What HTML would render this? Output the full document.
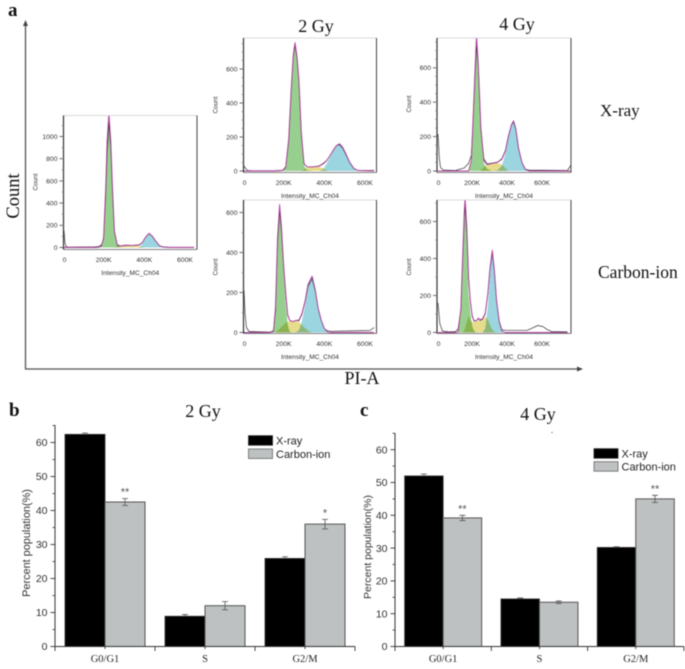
<!DOCTYPE html>
<html lang="en">
<head>
<meta charset="utf-8">
<title>Cell cycle distribution after X-ray and carbon-ion irradiation</title>
<style>
html,body{margin:0;padding:0;background:#fff;width:685px;height:669px;overflow:hidden}
svg{display:block;filter:blur(0.55px)}
.sf{font-family:"Liberation Serif",serif}
.ss{font-family:"Liberation Sans",sans-serif}
</style>
</head>
<body>
<svg id="figure" xmlns="http://www.w3.org/2000/svg" width="685" height="669" viewBox="0 0 685 669">
  <rect x="0" y="0" width="685" height="669" fill="#fff"/>
  <text class="sf" x="8" y="16" font-size="19" font-weight="bold" fill="#111">a</text>
  <text class="sf" x="9" y="416" font-size="19" font-weight="bold" fill="#111">b</text>
  <text class="sf" x="360" y="416" font-size="19" font-weight="bold" fill="#111">c</text>

  <line x1="25.5" y1="24" x2="25.5" y2="369" stroke="#555" stroke-width="1.3"/>
  <polygon points="25.5,20 23,26 28,26" fill="#444"/>
  <line x1="25" y1="369" x2="578" y2="369" stroke="#555" stroke-width="1.3"/>
  <polygon points="583,369 577,366.5 577,371.5" fill="#444"/>
  <text class="sf" transform="translate(19,196) rotate(-90)" text-anchor="middle" font-size="18.5" fill="#111">Count</text>
  <text class="sf" x="362" y="384" text-anchor="middle" font-size="18" fill="#111">PI-A</text>

  <text class="sf" x="316" y="32" text-anchor="middle" font-size="18" fill="#111">2 Gy</text>
  <text class="sf" x="517" y="30" text-anchor="middle" font-size="18" fill="#111">4 Gy</text>
  <text class="sf" x="600" y="116" font-size="17" fill="#111">X-ray</text>
  <text class="sf" x="598" y="278" font-size="17.5" fill="#111">Carbon-ion</text>

  <text class="sf" x="203" y="417" text-anchor="middle" font-size="18" fill="#111">2 Gy</text>
  <text class="sf" x="538" y="420" text-anchor="middle" font-size="18" fill="#111">4 Gy</text>
  <circle cx="552" cy="432.5" r="0.6" fill="#555"/>
  <g id="layer"></g>
</svg>
<script>
// ---------- Flow cytometry histograms (intensity in K, counts) ----------
const flowXTicks = [0, 200, 400, 600];
const flowYTicksControl = [0, 200, 400, 600, 800, 1000];
const flowYTicksDose = [0, 200, 400, 600];

const ctrlGrid = [0,5,10,20,150,170,185,195,205,212,221,230,238,248,262,280,300,340,370,385,400,418,435,450,470,490,520,640];
const ctrlRaw = [150,40,10,4,5,8,25,80,480,850,1130,900,520,140,25,15,22,20,25,45,90,125,100,60,15,6,3,3];
const ctrlFit = [0,0,0,0,0,2,15,90,540,960,1210,960,560,150,18,14,18,18,22,42,90,128,102,60,15,3,0,0];
const ctrlG1 = [0,0,0,0,0,2,15,90,540,960,1210,960,560,150,15,2,0,0,0,0,0,0,0,0,0,0,0,0];
const ctrlS = [0,0,0,0,0,0,0,0,0,0,0,0,0,3,10,14,18,18,14,5,0,0,0,0,0,0,0,0];
const ctrlG2 = [0,0,0,0,0,0,0,0,0,0,0,0,0,0,0,0,0,0,0,30,85,128,102,60,15,3,0,0];

const x2Grid = [0,10,20,40,150,190,205,220,232,242,251,260,270,282,295,310,340,370,390,405,420,440,455,470,485,500,520,540,560,640];
const x2Raw = [30,12,3,2,2,5,25,180,470,670,740,670,530,220,45,25,25,30,45,60,85,125,150,155,135,100,50,15,3,3];
const x2Fit = [0,0,0,0,0,3,20,190,480,680,755,680,540,230,42,25,25,28,42,58,85,125,150,160,140,105,52,16,3,0];
const x2G1 = [0,0,0,0,0,3,20,190,480,680,755,680,540,230,32,5,0,0,0,0,0,0,0,0,0,0,0,0,0,0];
const x2S = [0,0,0,0,0,0,0,0,0,0,0,0,0,0,8,20,25,24,15,5,0,0,0,0,0,0,0,0,0,0];
const x2G2 = [0,0,0,0,0,0,0,0,0,0,0,0,0,0,0,0,0,0,10,40,75,120,148,158,138,103,50,15,2,0];

const x4Grid = [0,8,15,30,100,150,175,190,200,210,220,230,245,262,280,310,340,365,385,400,420,432,445,460,480,500,520,740,760];
const x4Raw = [215,70,20,5,3,18,45,90,280,530,730,610,240,70,42,46,52,72,120,195,270,285,240,130,48,10,5,3,35];
const x4Fit = [0,0,0,0,0,0,0,60,290,560,790,620,250,60,38,44,50,68,115,190,270,292,245,135,48,8,0,0,0];
const x4G1 = [0,0,0,0,0,0,0,60,290,560,790,620,250,45,12,0,0,0,0,0,0,0,0,0,0,0,0,0,0];
const x4S = [0,0,0,0,0,0,0,0,0,0,0,0,5,22,36,44,46,38,15,2,0,0,0,0,0,0,0,0,0];
const x4G2 = [0,0,0,0,0,0,0,0,0,0,0,0,0,0,0,0,4,30,100,188,270,292,245,135,48,8,0,0,0];

const c2Grid = [0,5,12,25,130,145,155,165,175,185,195,205,215,225,240,255,270,285,300,315,335,350,365,380,395,410,430,520,620,640];
const c2Raw = [210,100,25,5,2,10,110,440,610,500,330,190,85,60,55,60,58,90,150,230,270,210,120,60,20,8,6,8,10,25];
const c2Fit = [0,0,0,0,0,6,130,470,640,520,340,200,90,60,55,60,62,95,155,240,282,215,120,60,20,2,0,0,0,0];
const c2G1 = [0,0,0,0,0,6,125,462,622,492,302,152,36,4,0,0,0,0,0,0,0,0,0,0,0,0,0,0,0,0];
const c2S = [0,0,0,0,0,0,0,8,18,28,38,48,54,56,56,56,52,38,22,8,0,0,0,0,0,0,0,0,0,0];
const c2G2 = [0,0,0,0,0,0,0,0,0,0,0,0,0,0,0,2,10,55,130,230,280,215,120,60,20,2,0,0,0,0];

const c4Grid = [0,10,25,60,100,115,130,140,150,155,165,175,185,195,205,218,230,240,255,270,285,297,310,322,335,350,365,385,510,540,570,600,625,650,740];
const c4Raw = [160,50,8,3,5,20,120,370,620,690,530,290,165,90,62,62,75,65,72,100,210,340,430,330,170,60,15,12,12,25,38,32,15,5,3];
const c4Fit = [0,0,0,0,0,4,125,390,655,730,560,300,170,95,65,62,78,68,75,105,215,350,445,335,172,55,8,0,0,0,0,0,0,0,0];
const c4G1 = [0,0,0,0,0,4,125,390,645,715,500,210,108,37,10,0,0,0,0,0,0,0,0,0,0,0,0,0,0,0,0,0,0,0,0];
const c4S = [0,0,0,0,0,0,0,0,10,25,60,90,62,58,55,58,65,60,68,85,72,40,15,3,0,0,0,0,0,0,0,0,0,0,0];
const c4G2 = [0,0,0,0,0,0,0,0,0,0,0,0,0,0,0,0,0,0,0,20,143,310,430,332,172,55,8,0,0,0,0,0,0,0,0];

// ---------- Bar charts ----------
const barCategories = ['G0/G1', 'S', 'G2/M'];
const barYTicks = [0, 10, 20, 30, 40, 50, 60];
const legendLabels = ['X-ray', 'Carbon-ion'];

const bXray = [62.4, 8.9, 25.9];
const bCarbon = [42.5, 12.0, 36.0];
const bXrayErr = [0.4, 0.5, 0.5];
const bCarbonErr = [1.0, 1.2, 1.4];
const bStars = ['**', '', '*'];

const cXray = [52.0, 14.5, 30.2];
const cCarbon = [39.2, 13.5, 45.0];
const cXrayErr = [0.6, 0.3, 0.2];
const cCarbonErr = [0.8, 0.4, 1.1];
const cStars = ['**', '', '**'];

const SVGNS = 'http://www.w3.org/2000/svg';
const layer = document.getElementById('layer');

function make(parent, tag, props, txt) {
  const el = document.createElementNS(SVGNS, tag);
  for (const k in props) el.setAttribute(k, props[k]);
  if (txt !== undefined) el.textContent = txt;
  parent.appendChild(el);
  return el;
}

let clipId = 0;

function drawFlowPanel(name, box, grid, raw, fit, g1, s, g2, yTicks, minorStep) {
  const g = make(layer, 'g', {});
  
  
  const X = k => box.x0 + k * box.xs;
  const Y = c => box.y0 - c * box.ys;

  const id = 'clip' + (clipId++);
  const clip = make(g, 'clipPath', { id: id });
  
  
  make(clip, 'rect', { x: box.l, y: box.t, width: box.r - box.l, height: box.b - box.t + 1 });

  const plot = make(g, 'g', { 'clip-path': 'url(#' + id + ')' });
  
  

  const areaPath = vals => {
    let d = 'M' + X(grid[0]).toFixed(1) + ' ' + Y(0).toFixed(1);
    grid.forEach((k, i) => { d += 'L' + X(k).toFixed(1) + ' ' + Y(vals[i]).toFixed(1); });
    return d + 'L' + X(grid[grid.length - 1]).toFixed(1) + ' ' + Y(0).toFixed(1) + 'Z';
  };
  const linePath = vals => grid.map((k, i) => (i ? 'L' : 'M') + X(k).toFixed(1) + ' ' + Y(vals[i]).toFixed(1)).join('');

  const aG1 = make(plot, 'path', { d: areaPath(g1), fill: '#97d08e', style: 'mix-blend-mode:multiply' });
  
  
  const aS = make(plot, 'path', { d: areaPath(s), fill: '#e6dc8c', style: 'mix-blend-mode:multiply' });
  
  
  const aG2 = make(plot, 'path', { d: areaPath(g2), fill: '#9ad5e0', style: 'mix-blend-mode:multiply' });
  
  
  const lRaw = make(plot, 'path', { d: linePath(raw), fill: 'none', stroke: '#333', 'stroke-width': 0.7, 'stroke-linejoin': 'round' });
  
  
  const lFit = make(plot, 'path', { d: linePath(fit), fill: 'none', stroke: '#b2409f', 'stroke-width': 0.9, 'stroke-linejoin': 'round' });
  
  

  const frameTop = make(g, 'line', { x1: box.l, y1: box.t, x2: box.r, y2: box.t, stroke: '#ccc', 'stroke-width': 0.7 });
  
  
  const frameRight = make(g, 'line', { x1: box.r, y1: box.t, x2: box.r, y2: box.b, stroke: '#444', 'stroke-width': 1 });
  
  
  const frameLeft = make(g, 'line', { x1: box.l, y1: box.t, x2: box.l, y2: box.b, stroke: '#333', 'stroke-width': 1.2 });
  
  
  const frameBottom = make(g, 'line', { x1: box.l, y1: box.b, x2: box.r, y2: box.b, stroke: '#555', 'stroke-width': 0.7 });
  
  

  yTicks.forEach(v => {
    const t = make(g, 'line', { x1: box.l - 4, y1: Y(v), x2: box.l, y2: Y(v), stroke: '#444', 'stroke-width': 0.8 });
    
    
    const lab = make(g, 'text', { x: box.l - 6, y: Y(v) + 2.4, 'text-anchor': 'end', 'font-size': 6.8, fill: '#333', 'class': 'ss' }, String(v));
    
    
  });
  for (let v = minorStep; Y(v) > box.t; v += minorStep) {
    const m = make(g, 'line', { x1: box.l - 2, y1: Y(v), x2: box.l, y2: Y(v), stroke: '#777', 'stroke-width': 0.6 });
    
    
  }
  flowXTicks.forEach(v => {
    const lab = make(g, 'text', { x: X(v) + (v ? -1 : 0.5), y: box.b + 12.5, 'text-anchor': 'middle', 'font-size': 6.8, fill: '#333', 'class': 'ss' }, v ? v + 'K' : '0');
    
    
  });
  const xt = make(g, 'text', { x: (box.l + box.r) / 2, y: box.b + 25.5, 'text-anchor': 'middle', 'font-size': 6.6, fill: '#333', 'class': 'ss' }, 'Intensity_MC_Ch04');
  
  
  const yt = make(g, 'text', { transform: 'translate(' + (box.l - 26) + ',' + box.countY + ') rotate(-90)', 'text-anchor': 'middle', 'font-size': 6.4, fill: '#333', 'class': 'ss' }, 'Count');
  
  
}

drawFlowPanel('histogram-control', { l: 63.5, r: 197, t: 115.5, b: 249.5, x0: 64, xs: 0.2033, y0: 247.5, ys: 0.111, countY: 182 }, ctrlGrid, ctrlRaw, ctrlFit, ctrlG1, ctrlS, ctrlG2, flowYTicksControl, 100);
drawFlowPanel('histogram-x-ray-2gy', { l: 243.5, r: 376.5, t: 38, b: 172.5, x0: 244, xs: 0.2033, y0: 171, ys: 0.17, countY: 105 }, x2Grid, x2Raw, x2Fit, x2G1, x2S, x2G2, flowYTicksDose, 50);
drawFlowPanel('histogram-x-ray-4gy', { l: 437, r: 571, t: 38, b: 172.5, x0: 438, xs: 0.175, y0: 171, ys: 0.172, countY: 104 }, x4Grid, x4Raw, x4Fit, x4G1, x4S, x4G2, flowYTicksDose, 50);
drawFlowPanel('histogram-carbon-2gy', { l: 243.5, r: 376.5, t: 200, b: 333.5, x0: 244, xs: 0.2033, y0: 332.5, ys: 0.2, countY: 267 }, c2Grid, c2Raw, c2Fit, c2G1, c2S, c2G2, flowYTicksDose, 100);
drawFlowPanel('histogram-carbon-4gy', { l: 437, r: 571, t: 200, b: 333.5, x0: 438, xs: 0.175, y0: 332.5, ys: 0.185, countY: 267 }, c4Grid, c4Raw, c4Fit, c4G1, c4S, c4G2, flowYTicksDose, 100);

function drawBarChart(name, box, xray, carbon, xrayErr, carbonErr, stars) {
  const g = make(layer, 'g', {});
  
  
  const Y = v => box.y0 - v * box.ys;
  const cx = i => box.x0 + box.step * (i + 0.5);

  barCategories.forEach((cat, i) => {
    const c = cx(i);
    const r1 = make(g, 'rect', { x: c - box.bw, y: Y(xray[i]), width: box.bw, height: box.y0 - Y(xray[i]), fill: '#000', stroke: '#333', 'stroke-width': 0.8 });
    
    
    const r2 = make(g, 'rect', { x: c, y: Y(carbon[i]), width: box.bw, height: box.y0 - Y(carbon[i]), fill: '#bdc1c1', stroke: '#555', 'stroke-width': 1 });
    
    

    const e1 = make(g, 'path', { d: 'M' + (c - box.bw / 2) + ' ' + Y(xray[i] + xrayErr[i]) + 'V' + Y(xray[i]) + 'M' + (c - box.bw / 2 - 3) + ' ' + Y(xray[i] + xrayErr[i]) + 'h6', stroke: '#555', 'stroke-width': 0.8, fill: 'none' });
    
    
    const ex = c + box.bw / 2;
    const e2 = make(g, 'path', { d: 'M' + ex + ' ' + Y(carbon[i] + carbonErr[i]) + 'V' + Y(carbon[i] - carbonErr[i]) + 'M' + (ex - 3) + ' ' + Y(carbon[i] + carbonErr[i]) + 'h6M' + (ex - 3) + ' ' + Y(carbon[i] - carbonErr[i]) + 'h6', stroke: '#555', 'stroke-width': 0.8, fill: 'none' });
    
    

    if (stars[i]) {
      const st = make(g, 'text', { x: ex, y: Y(carbon[i] + carbonErr[i]) - 3, 'text-anchor': 'middle', 'font-size': 11, fill: '#555', 'class': 'ss' }, stars[i]);
      
      
    }
    const lab = make(g, 'text', { x: c, y: box.y0 + 15.5, 'text-anchor': 'middle', 'font-size': 10.5, fill: '#222', 'class': 'sf' }, cat);
    
    
    const minor = make(g, 'line', { x1: c, y1: box.y0, x2: c, y2: box.y0 + 2.5, stroke: '#333', 'stroke-width': 0.9 });
    
    
  });

  const yAxis = make(g, 'line', { x1: box.x0, y1: box.top, x2: box.x0, y2: box.y0, stroke: '#333', 'stroke-width': 1 });
  
  
  const xAxis = make(g, 'line', { x1: box.x0, y1: box.y0, x2: box.x0 + box.step * 3, y2: box.y0, stroke: '#333', 'stroke-width': 1 });
  
  
  for (let i = 0; i <= 3; i++) {
    const t = make(g, 'line', { x1: box.x0 + box.step * i, y1: box.y0, x2: box.x0 + box.step * i, y2: box.y0 + 4.5, stroke: '#333', 'stroke-width': 0.9 });
    
    
  }
  barYTicks.forEach(v => {
    const t = make(g, 'line', { x1: box.x0 - 4.5, y1: Y(v), x2: box.x0, y2: Y(v), stroke: '#333', 'stroke-width': 0.9 });
    
    
    const lab = make(g, 'text', { x: box.x0 - 7.5, y: Y(v) + 3.7, 'text-anchor': 'end', 'font-size': 10.5, fill: '#333', 'class': 'ss' }, String(v));
    
    
    const m = make(g, 'line', { x1: box.x0 - 2.5, y1: Y(v + 5), x2: box.x0, y2: Y(v + 5), stroke: '#333', 'stroke-width': 0.8 });
    
    
  });

  const yt = make(g, 'text', { transform: 'translate(' + box.titleX + ',' + box.titleY + ') rotate(-90)', 'text-anchor': 'middle', 'font-size': box.titleSize, fill: '#333', 'class': 'ss' }, 'Percent population(%)');
  
  

  legendLabels.forEach((label, i) => {
    const ly = box.legY + i * box.legGap;
    const sw = make(g, 'rect', { x: box.legX, y: ly, width: 24, height: 9.5, fill: i ? '#bdc1c1' : '#000', stroke: i ? '#666' : '#222', 'stroke-width': 0.8 });
    
    
    const lt = make(g, 'text', { x: box.legX + 27.5, y: ly + 9, 'font-size': 11, fill: '#222', 'class': 'ss' }, label);
    
    
  });
}

drawBarChart('bar-chart-2gy', { x0: 55, step: 100, bw: 40, y0: 646.5, ys: 3.4, top: 425, titleX: 30, titleY: 543, titleSize: 10.9, legX: 248.5, legY: 435.7, legGap: 13.3 }, bXray, bCarbon, bXrayErr, bCarbonErr, bStars);
drawBarChart('bar-chart-4gy', { x0: 395, step: 96.3, bw: 38.5, y0: 646.5, ys: 3.28, top: 433, titleX: 371, titleY: 547, titleSize: 10.5, legX: 594, legY: 448.7, legGap: 13 }, cXray, cCarbon, cXrayErr, cCarbonErr, cStars);
</script>
</body>
</html>
